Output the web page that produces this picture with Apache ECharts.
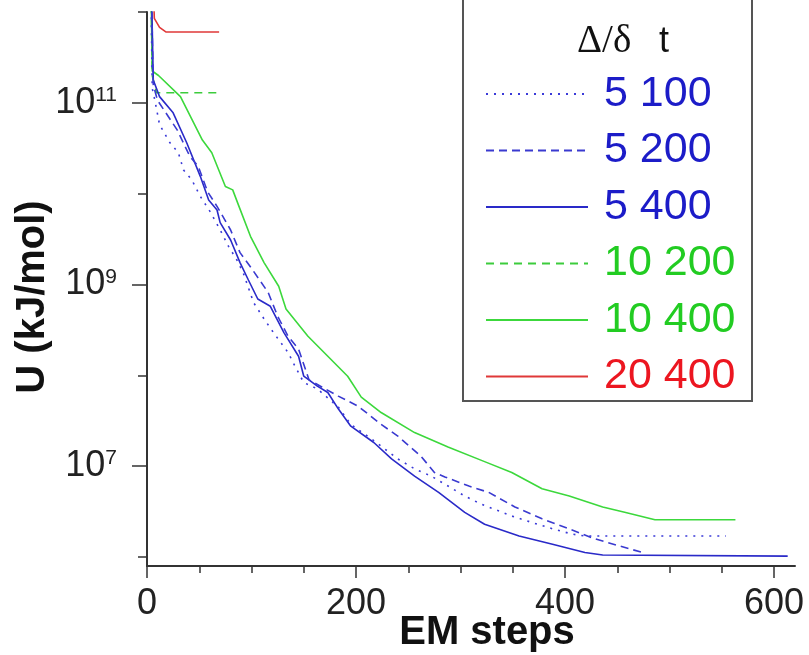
<!DOCTYPE html>
<html>
<head>
<meta charset="utf-8">
<script src="https://cdn.jsdelivr.net/npm/echarts@6/dist/echarts.min.js"></script>
<style>html,body{margin:0;padding:0;background:#fff}#c{width:809px;height:655px}</style>
</head>
<body>
<div id="c"></div>
<script>
// ---- data ----
const seriesNames = ['5 100', '5 200', '5 400', '10 200', '10 400', '20 400'];

const steps_5_100 = [3, 5, 8, 12, 22, 30, 35, 43, 51, 61, 70, 78, 86, 92, 102, 112, 121, 135, 142, 150, 163, 183, 195, 217, 240, 256, 272, 288, 304, 320, 349, 368, 388, 407, 419, 554];
const U_5_100 = [1e13, 1.45e11, 1.0e11, 5.75e10, 3.63e10, 2.82e10, 1.82e10, 1.41e10, 9.33e9, 6.17e9, 3.98e9, 2.63e9, 1.86e9, 1.35e9, 6.31e8, 4.17e8, 2.95e8, 1.78e8, 1.23e8, 8.32e7, 7.08e7, 4.47e7, 2.88e7, 1.91e7, 1.20e7, 9.33e6, 7.76e6, 6.03e6, 4.68e6, 3.80e6, 2.82e6, 2.40e6, 2.04e6, 1.78e6, 1.70e6, 1.70e6];

const steps_5_200 = [3, 6, 10, 29, 41, 49, 58, 67, 80, 89, 101, 116, 125, 135, 145, 155, 183, 202, 224, 240, 262, 275, 285, 308, 327, 352, 378, 404, 426, 452, 474];
const U_5_200 = [1e13, 1.58e11, 1.07e11, 5.01e10, 2.57e10, 2.0e10, 1.05e10, 7.24e9, 3.98e9, 2.24e9, 1.45e9, 8.13e8, 4.47e8, 2.69e8, 1.95e8, 8.91e7, 5.89e7, 4.57e7, 2.88e7, 2.14e7, 1.29e7, 8.51e6, 7.59e6, 6.03e6, 5.13e6, 3.55e6, 2.63e6, 2.04e6, 1.62e6, 1.32e6, 1.12e6];

const steps_5_400 = [3, 6, 12, 25, 38, 51, 59, 67, 70, 80, 89, 97, 106, 118, 131, 145, 150, 163, 173, 183, 195, 217, 234, 256, 279, 304, 323, 356, 388, 419, 436, 613];
const U_5_400 = [1e13, 1.78e11, 1.17e11, 7.76e10, 3.63e10, 1.55e10, 8.51e9, 6.61e9, 4.79e9, 3.09e9, 1.74e9, 1.12e9, 6.92e8, 5.75e8, 2.95e8, 1.62e8, 9.77e7, 7.59e7, 6.46e7, 4.27e7, 2.75e7, 1.82e7, 1.20e7, 7.76e6, 5.13e6, 3.09e6, 2.29e6, 1.70e6, 1.38e6, 1.12e6, 1.05e6, 1.02e6];

const steps_10_200 = [3, 5, 9, 68];
const U_10_200 = [1e13, 2.0e11, 1.29e11, 1.29e11];

const steps_10_400 = [3, 5, 11, 32, 53, 62, 75, 82, 88, 99, 112, 126, 133, 154, 173, 192, 205, 224, 256, 288, 323, 349, 378, 404, 436, 458, 486, 563];
const U_10_400 = [1e13, 2.24e11, 2.0e11, 1.17e11, 3.89e10, 2.82e10, 1.20e10, 1.10e10, 7.24e9, 3.39e9, 1.74e9, 9.55e8, 5.37e8, 2.69e8, 1.62e8, 9.77e7, 5.75e7, 3.89e7, 2.34e7, 1.62e7, 1.12e7, 8.51e6, 5.62e6, 4.68e6, 3.55e6, 3.09e6, 2.57e6, 2.57e6];

const steps_20_400 = [4, 7, 12, 18, 69];
const U_20_400 = [1e13, 8.51e11, 6.76e11, 6.03e11, 6.03e11];

const xMajorTicks = [0, 200, 400, 600];
const xMinorTicks = [50, 100, 150, 250, 300, 350, 450, 500, 550];
const yLabelExponents = [7, 9, 11];
const yMinorExponents = [6, 8, 10, 12];
const legendTitle = ['Δ/δ', 't'];

// ---- chart ----
const FONT = 'Liberation Sans';
const AXIS = '#333333';
const pair = (xs, ys) => xs.map((x, i) => [x, ys[i]]);
const stepsList = [steps_5_100, steps_5_200, steps_5_400, steps_10_200, steps_10_400, steps_20_400];
const uList = [U_5_100, U_5_200, U_5_400, U_10_200, U_10_400, U_20_400];
const lineColors = ['#3a3ad8', '#3a3ad0', '#2a2ac8', '#3ccc3c', '#3cd83c', '#e03838'];
const textColors = ['#1c1cc8', '#1c1cc8', '#1c1cc8', '#22cc22', '#22cc22', '#ec1620'];
const dashes = [[2, 6], [8, 5], 'solid', [8, 6], 'solid', 'solid'];
const yMin = Math.pow(10, 5.9), yMax = 1e12;

const chart = echarts.init(document.getElementById('c'), null, { renderer: 'canvas' });
chart.setOption({
  animation: false,
  backgroundColor: '#fff',
  grid: { left: 147, top: 12, width: 648, height: 554, containLabel: false, outerBoundsMode: 'none' },
  xAxis: [
    {
      type: 'value', min: 0, max: 620, position: 'bottom',
      axisLine: { lineStyle: { color: AXIS, width: 2 } },
      axisTick: { customValues: xMajorTicks, length: 12, lineStyle: { color: AXIS, width: 1.5 } },
      axisLabel: {
        customValues: xMajorTicks, margin: 20, fontSize: 36, lineHeight: 36, color: '#222', fontFamily: FONT,
        formatter: v => (xMajorTicks.indexOf(v) >= 0 ? String(v) : '')
      },
      splitLine: { show: false },
      name: 'EM steps', nameLocation: 'middle', nameGap: 47, nameMoveOverlap: false,
      nameTextStyle: { fontSize: 40, fontWeight: 'bold', fontFamily: FONT, color: '#111', padding: [0, 0, 0, 32] }
    },
    {
      type: 'value', min: 0, max: 620, position: 'bottom',
      axisLine: { show: false },
      axisTick: { customValues: xMinorTicks, length: 7, lineStyle: { color: AXIS, width: 1.5 } },
      axisLabel: { show: false },
      splitLine: { show: false }
    }
  ],
  yAxis: [
    {
      type: 'log', logBase: 10, min: yMin, max: yMax, splitNumber: 6, position: 'left',
      axisLine: { lineStyle: { color: AXIS, width: 2 } },
      axisTick: { customValues: yMinorExponents.map(e => Math.pow(10, e)), length: 9, lineStyle: { color: AXIS, width: 1.5 } },
      axisLabel: {
        margin: 30, fontFamily: FONT,
        formatter: v => {
          const l = Math.log10(v), e = Math.round(l);
          return (Math.abs(l - e) < 1e-6 && yLabelExponents.indexOf(e) >= 0) ? '{b|10}{s|' + e + '}' : '';
        },
        rich: {
          b: { fontSize: 36, lineHeight: 36, fontFamily: FONT, color: '#222' },
          s: { fontSize: 21, lineHeight: 6, verticalAlign: 'top', fontFamily: FONT, color: '#222' }
        }
      },
      splitLine: { show: false },
      name: 'U (kJ/mol)', nameLocation: 'middle', nameGap: 94, nameMoveOverlap: false,
      nameTextStyle: { fontSize: 40, fontWeight: 'bold', fontFamily: FONT, color: '#111', padding: [0, 16, 0, 0] }
    },
    {
      type: 'log', logBase: 10, min: yMin, max: yMax, position: 'left',
      axisLine: { show: false },
      axisTick: { customValues: yLabelExponents.map(e => Math.pow(10, e)), length: 15, lineStyle: { color: AXIS, width: 1.5 } },
      axisLabel: { show: false },
      splitLine: { show: false }
    }
  ],
  legend: {
    orient: 'vertical', left: 485, top: 72, padding: 0,
    itemWidth: 102, itemHeight: 2, itemGap: 12.5,
    selectedMode: false,
    itemStyle: { color: 'transparent', borderColor: 'transparent', borderWidth: 0 },
    textStyle: { fontFamily: FONT, fontSize: 43, lineHeight: 44, padding: [0, 0, 0, 11] },
    data: seriesNames.map((n, i) => ({ name: n, textStyle: { color: textColors[i] } }))
  },
  graphic: [
    { type: 'rect', silent: true, z: 0, shape: { x: 463, y: -4, width: 289, height: 405 },
      style: { fill: 'none', stroke: '#555', lineWidth: 2 } },
    { type: 'text', silent: true, x: 577, y: 22,
      style: { text: legendTitle[0], fontSize: 39, fontFamily: 'Liberation Serif', fill: '#111' } },
    { type: 'text', silent: true, x: 659, y: 24,
      style: { text: legendTitle[1], fontSize: 36, fontFamily: FONT, fill: '#111' } }
  ],
  series: seriesNames.map((n, i) => ({
    name: n, type: 'line', xAxisIndex: 0, yAxisIndex: 0,
    data: pair(stepsList[i], uList[i]),
    symbol: 'none', showSymbol: false, clip: true,
    lineStyle: { color: lineColors[i], width: 1.6, type: dashes[i] },
    itemStyle: { color: lineColors[i] },
    z: 2 + (5 - i)
  }))
});
</script>
</body>
</html>
